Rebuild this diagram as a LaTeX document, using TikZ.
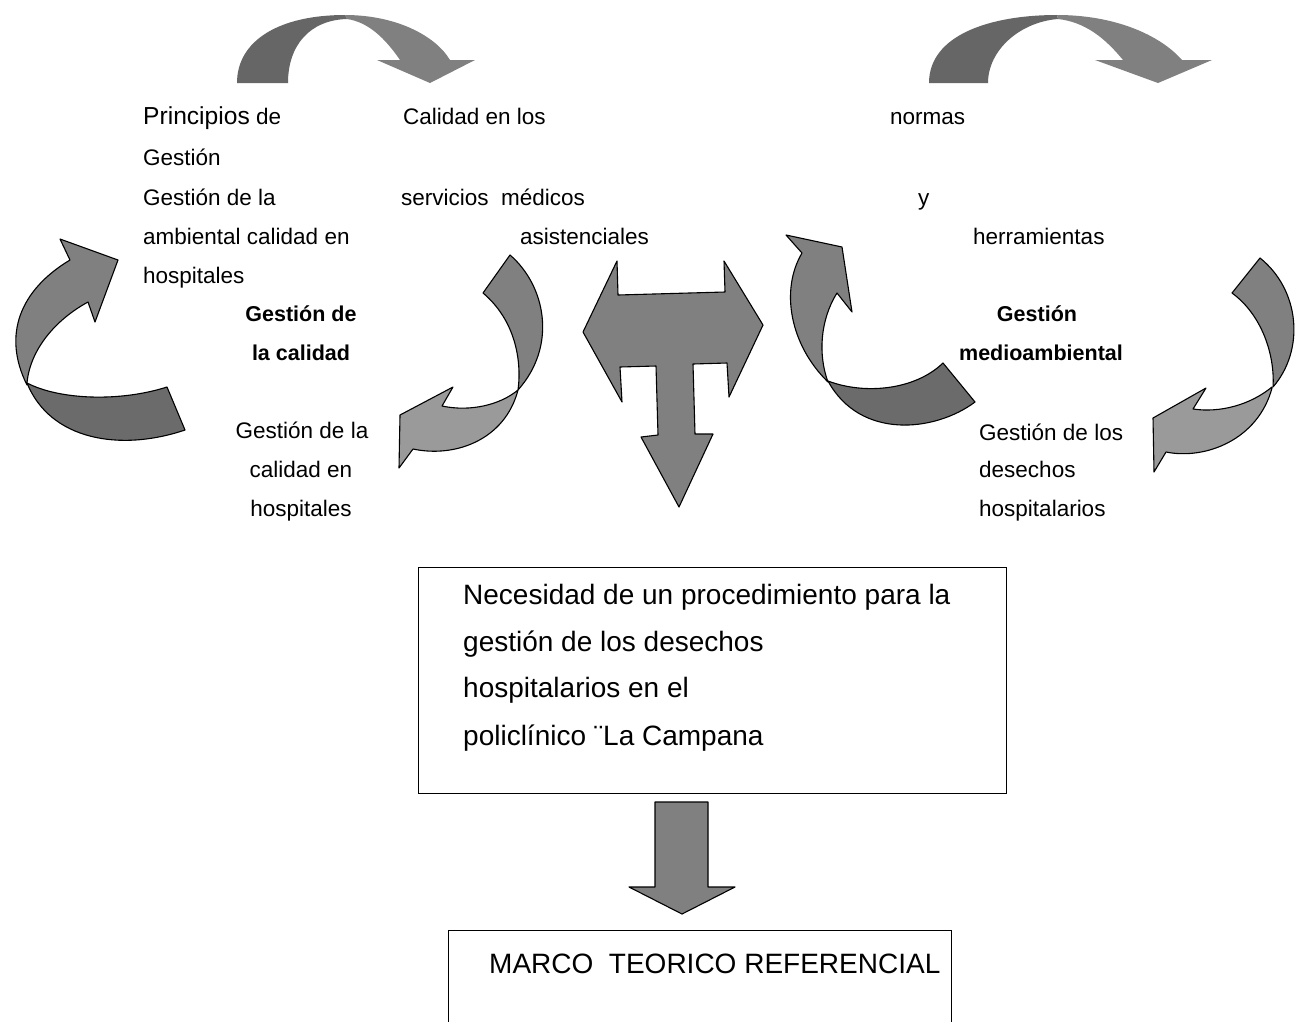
\documentclass[tikz,border=0pt]{standalone}
\usepackage{fontspec}
\setmainfont{Liberation Sans}
\definecolor{midg}{HTML}{808080}
\definecolor{darkg}{HTML}{666666}
\definecolor{lightg}{HTML}{9A9A9A}
\definecolor{bandd}{HTML}{6B6B6B}
\begin{document}
\begin{tikzpicture}[x=1pt,y=-1pt,
  txt/.style={font=\fontsize{22.5}{27}\selectfont, anchor=base west, inner sep=0pt},
  ctxt/.style={font=\fontsize{22.5}{27}\selectfont, anchor=base, inner sep=0pt},
  btxt/.style={font=\fontsize{21.5}{26}\selectfont\bfseries, anchor=base, inner sep=0pt},
  boxtxt/.style={font=\fontsize{28}{33}\selectfont, anchor=base west, inner sep=0pt},
  ribbon/.style={draw=black, line width=1.1pt, line join=round},
  frame/.style={draw=black, line width=1.3pt}]
\useasboundingbox (0,0) rectangle (1297,1021);
\clip (0,0) rectangle (1297,1021);
\fill[white] (0,0) rectangle (1297,1021);

% ---------- top arcs ----------
\fill[darkg] (237,83) .. controls (237,40) and (280,15) .. (345,15) -- (347,19)
   .. controls (310,20) and (288,45) .. (288,83) -- cycle;
\fill[midg] (345,15) .. controls (395,15) and (435,35) .. (450,60) -- (475,60) -- (430,83)
   -- (377,60) -- (400,60) .. controls (385,38) and (368,22) .. (347,19) -- cycle;

\fill[darkg] (929,83) .. controls (929,35) and (990,15) .. (1057,15) -- (1058,19)
   .. controls (1020,22) and (988,50) .. (988,83) -- cycle;
\fill[midg] (1057,15) .. controls (1115,15) and (1160,35) .. (1182,60) -- (1212,60) -- (1158,83)
   -- (1095,60) -- (1123,60) .. controls (1105,38) and (1085,22) .. (1058,19) -- cycle;

% ---------- left big curved arrow ----------
\filldraw[ribbon, fill=midg] (27,385) .. controls (2,335) and (20,290) .. (70,260)
   -- (60,239) -- (118,260) -- (95,322) -- (88,302)
   .. controls (55,320) and (30,350) .. (27,383) -- cycle;
\filldraw[ribbon, fill=bandd] (27,383) .. controls (60,400) and (120,402) .. (167,387)
   -- (185,430) .. controls (120,452) and (50,440) .. (27,383) -- cycle;

% ---------- left centre curved arrow ----------
\filldraw[ribbon, fill=midg] (483,293) -- (510,255)
   .. controls (545,285) and (558,345) .. (518,390)
   .. controls (522,360) and (515,320) .. (483,293) -- cycle;
\filldraw[ribbon, fill=lightg] (518,390) .. controls (500,405) and (470,412) .. (442,406)
   -- (453,387) -- (400,415) -- (399,468) -- (413,449)
   .. controls (455,458) and (505,440) .. (518,390) -- cycle;

% ---------- central T arrow ----------
\filldraw[ribbon, fill=midg] (617,261) -- (583,332) -- (622,402) -- (620,367) -- (656,366)
   -- (658,435) -- (641,437) -- (679,507) -- (713,434) -- (695,434) -- (693,364)
   -- (727,363) -- (729,397) -- (763,325) -- (724,261) -- (725,292) -- (618,295) -- cycle;

% ---------- right centre curved arrow ----------
\filldraw[ribbon, fill=midg] (786,235) -- (842,247) -- (852,312) -- (837,293)
   .. controls (820,320) and (818,355) .. (828,382)
   .. controls (790,345) and (780,290) .. (802,253) -- cycle;
\filldraw[ribbon, fill=bandd] (828,381) .. controls (865,395) and (915,390) .. (943,363)
   -- (975,402) .. controls (935,432) and (860,440) .. (828,381) -- cycle;

% ---------- right big curved arrow ----------
\filldraw[ribbon, fill=midg] (1232,293) -- (1260,258)
   .. controls (1300,290) and (1305,350) .. (1273,387)
   .. controls (1275,355) and (1262,315) .. (1232,293) -- cycle;
\filldraw[ribbon, fill=lightg] (1272,387) .. controls (1250,405) and (1220,413) .. (1193,409)
   -- (1206,388) -- (1153,418) -- (1154,472) -- (1166,452)
   .. controls (1205,460) and (1258,440) .. (1272,388) -- cycle;

% ---------- texts top left ----------
\node[txt] (t1) at (143,124) {{\fontsize{24.6}{29}\selectfont Principios} de};
\node[txt] (t2) at (143,165) {Gestión};
\node[txt] (t3) at (143,205) {Gestión de la};
\node[txt] (t4) at (143,244) {ambiental calidad en};
\node[txt] (t5) at (143,283) {hospitales};

\node[txt] (c1) at (403,124) {Calidad en los};
\node[txt] (c2) at (401,205) {servicios\ \ médicos};
\node[txt] (c3) at (520,244) {asistenciales};

\node[txt] (r1) at (890,124) {normas};
\node[txt] (r2) at (918,205) {y};
\node[txt] (r3) at (973,244) {herramientas};

\node[btxt] (g1) at (301,321) {Gestión de};
\node[btxt] (g2) at (301,360) {la calidad};
\node[ctxt] (g3) at (302,438) {Gestión de la};
\node[ctxt] (g4) at (301,477) {calidad en};
\node[ctxt] (g5) at (301,516) {hospitales};

\node[btxt] (m1) at (1037,321) {Gestión};
\node[btxt] (m2) at (1041,360) {medioambiental};
\node[txt] (m3) at (979,440) {Gestión de los};
\node[txt] (m4) at (979,477) {desechos};
\node[txt] (m5) at (979,516) {hospitalarios};

% ---------- box 1 ----------
\node[frame, anchor=north west, minimum width=588, minimum height=226, inner sep=0pt] (box1) at (418,567) {};
\node[boxtxt] (b1) at (463,604) {Necesidad de un procedimiento para la};
\node[boxtxt] (b2) at (463,651) {gestión de los desechos};
\node[boxtxt] (b3) at (463,697) {hospitalarios en el};
\node[boxtxt] (b4) at (463,745) {policlínico ¨La Campana};

% ---------- down arrow ----------
\filldraw[ribbon, fill=midg] (655,802) -- (708,802) -- (708,887) -- (735,887) -- (682,914)
   -- (629,887) -- (655,887) -- cycle;

% ---------- box 2 ----------
\node[frame, anchor=north west, minimum width=503, minimum height=120, inner sep=0pt] (box2) at (448,930) {};
\node[boxtxt] (mt) at (489,973) {MARCO\ \ TEORICO REFERENCIAL};
\end{tikzpicture}
\end{document}
